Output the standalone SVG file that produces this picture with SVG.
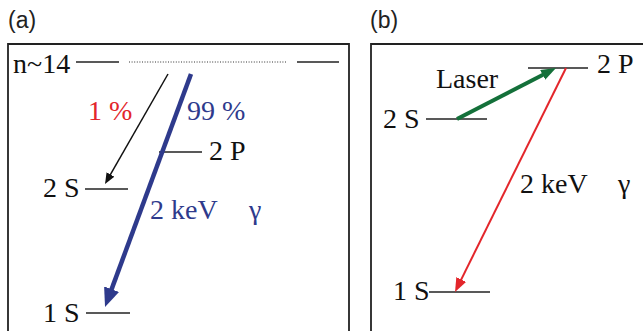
<svg xmlns="http://www.w3.org/2000/svg" width="643" height="331" viewBox="0 0 643 331">
<style>
.box{fill:none;stroke:#222;stroke-width:1.8}
.lvl{stroke:#222;stroke-width:1.5;fill:none}
text.t{font-family:'Liberation Serif',serif;font-size:28px;fill:#111}
text.lab{font-family:'Liberation Sans',sans-serif;font-size:23px;fill:#222}
text.blue{fill:#2e3a8c}
text.red{fill:#e3262b}
</style>
<defs>
<marker id="hBlack" markerUnits="userSpaceOnUse" markerWidth="11" markerHeight="9" refX="6" refY="4.5" orient="auto"><path d="M0,0 L11,4.5 L0,9 z" fill="#111"/></marker>
<marker id="hBlue" markerUnits="userSpaceOnUse" markerWidth="19" markerHeight="16" refX="9" refY="8" orient="auto"><path d="M0,0 L19,8 L0,16 z" fill="#2e3a8c"/></marker>
<marker id="hGreen" markerUnits="userSpaceOnUse" markerWidth="15" markerHeight="11" refX="8" refY="5.5" orient="auto"><path d="M0,0 L15,5.5 L0,11 z" fill="#14703a"/></marker>
<marker id="hRed" markerUnits="userSpaceOnUse" markerWidth="14" markerHeight="11" refX="8" refY="5.5" orient="auto"><path d="M0,0 L14,5.5 L0,11 z" fill="#e3262b"/></marker>
</defs>

<g id="panel-a">
<text class="lab" x="8" y="28" font-family="Liberation Sans, sans-serif">(a)</text>
<polyline class="box" points="8,340 8,44 349,44 349,340"/>
</g>
<g id="panel-b">
<text class="lab" x="370" y="28" font-family="Liberation Sans, sans-serif">(b)</text>
<polyline class="box" points="371,340 371,44 650,44"/>
</g>

<g font-family="Liberation Serif, serif">
<g id="a-n14">
<text class="t" x="13" y="73">n~14</text>
<line class="lvl" x1="76" y1="62" x2="119" y2="62"/>
<line x1="129" y1="62" x2="287" y2="62" stroke="#333" stroke-width="1" stroke-dasharray="1 1.6"/>
<line class="lvl" x1="297" y1="62" x2="339" y2="62"/>
</g>
<g id="a-2P">
<line class="lvl" x1="159" y1="152" x2="202" y2="152"/>
<text class="t" x="209" y="160">2 P</text>
</g>
<g id="a-2S">
<text class="t" x="43" y="197">2 S</text>
<line class="lvl" x1="85" y1="189" x2="128" y2="189"/>
</g>
<g id="a-1S">
<text class="t" x="43" y="322">1 S</text>
<line class="lvl" x1="86" y1="313" x2="130" y2="313"/>
</g>
<g id="a-labels">
<text class="t red" x="88" y="120">1 %</text>
<text class="t blue" x="187" y="120">99 %</text>
<text class="t blue" x="150" y="219">2 keV</text>
<text class="t blue" x="249" y="219">γ</text>
</g>

<g id="b-2P">
<line class="lvl" x1="528" y1="68" x2="588" y2="68"/>
<text class="t" x="597" y="73">2 P</text>
</g>
<g id="b-2S">
<text class="t" x="383" y="128">2 S</text>
<line class="lvl" x1="426" y1="119" x2="487" y2="119"/>
</g>
<g id="b-1S">
<text class="t" x="393" y="300">1 S</text>
<line class="lvl" x1="429" y1="292" x2="490" y2="292"/>
</g>
<g id="b-labels">
<text class="t" x="436" y="88">Laser</text>
<text class="t" x="520" y="193">2 keV</text>
<text class="t" x="618" y="193">γ</text>
</g>
</g>

<g id="connectors">
<line x1="168" y1="74" x2="107.5" y2="179.7" stroke="#111" stroke-width="1.5" marker-end="url(#hBlack)"/>
<line x1="191" y1="74" x2="108.5" y2="297.6" stroke="#2e3a8c" stroke-width="4.5" marker-end="url(#hBlue)"/>
<line x1="457" y1="119" x2="549.8" y2="71.2" stroke="#14703a" stroke-width="4" marker-end="url(#hGreen)"/>
<line x1="566" y1="68" x2="457.7" y2="286.6" stroke="#e3262b" stroke-width="2" marker-end="url(#hRed)"/>
</g>
</svg>
